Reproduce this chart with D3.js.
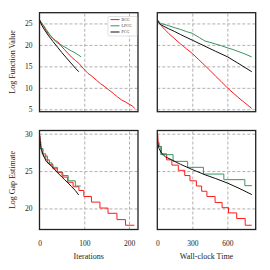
<!DOCTYPE html>
<html>
<head>
<meta charset="UTF-8">
<script src="https://d3js.org/d3.v7.min.js"></script>
<style>
  body { margin: 0; background: #fff; }
  svg { display: block; font-family: "Liberation Serif", "DejaVu Serif", serif; }
  .grid line { stroke: #b0b0b0; stroke-dasharray: 3,2; stroke-width: 1; }
  .grid path { display: none; }
  .ticks path, .ticks line { display: none; }
  .ticks text { font-family: "Liberation Serif", serif; font-size: 7.5px; fill: #222; }
  .frame { fill: none; stroke: #222; stroke-width: 1.3; }
  .series { fill: none; stroke-width: 1; }
</style>
</head>
<body>
<svg width="270" height="270"></svg>
<script>
// series names and colours
const names = ['BCG', 'LPCG', 'PCG'];
const colors = ['#ff1a1a', '#3a9460', '#111111'];

// top-left: log function value vs iterations
const fvIterBCG = [[0,25.8],[5,25.0],[10,24.2],[15,23.3],[19,22.7],[25,22.0],[30,21.5],[36,21.0],[41,20.7],[48,19.8],[55,19.0],[63,18.1],[71,17.2],[80,16.4],[88,15.7],[97,14.6],[108,13.4],[117,12.7],[127,11.8],[136,11.0],[146,10.25],[155,9.5],[165,8.7],[174,7.9],[183,7.2],[192,6.7],[200,6.2],[207,5.8],[213,5.2]];
const fvIterLPCG = [[0,25.8],[5,25.1],[10,24.4],[15,23.6],[19,23.0],[25,22.1],[30,21.5],[36,20.8],[41,20.4],[48,20.0],[55,19.6],[63,19.1],[71,18.6],[77,18.3],[83,17.9],[88,17.6],[93,17.2]];
const fvIterPCG = [[0,25.8],[5,24.6],[10,23.7],[19,22.3],[30,20.8],[40,19.5],[50,18.2],[60,17.0],[70,15.8],[80,14.6],[87.6,13.75]];

// top-right: log function value vs wall-clock time
const fvTimeBCG = [[0,25.8],[25,24.8],[50,24.0],[75,23.3],[100,22.6],[150,21.4],[200,20.2],[250,19.1],[300,18.0],[350,16.7],[400,15.4],[450,14.1],[500,12.7],[550,11.4],[600,10.0],[650,8.8],[700,7.6],[750,6.5],[809,5.2]];
const fvTimeLPCG = [[0,25.8],[30,25.0],[94,24.5],[150,24.0],[200,23.6],[250,23.1],[300,22.7],[360,21.7],[409,20.9],[450,20.6],[500,20.2],[550,19.8],[603,19.3],[650,18.9],[700,18.4],[750,17.9],[809,17.2]];
const fvTimePCG = [[0,25.8],[20,24.9],[50,24.4],[94,23.8],[150,23.1],[200,22.4],[300,21.1],[400,19.8],[500,18.5],[603,17.2],[700,15.6],[809,13.75]];

// bottom-left: log gap estimate vs iterations (step functions for BCG, LPCG)
const gapIterBCG = [[0,29.7],[1,28.9],[3,28.0],[6,27.3],[14,26.5],[22,25.9],[30,25.3],[40,24.8],[52,24.2],[63,23.5],[75,22.9],[88,22.4],[99,21.6],[116,20.85],[135,20.05],[153,19.35],[173,18.5],[192,17.75],[212,17.75]];
const gapIterLPCG = [[0,28.0],[8,27.0],[18,26.1],[28,25.5],[40,24.9],[50,24.4],[64,23.7],[80,23.0],[92,23.0]];
const gapIterPCG = [[0,30.0],[2,28.7],[4,27.9],[8,27.2],[15,26.3],[22,25.9],[30,25.5],[40,24.8],[50,24.2],[56,23.85],[64,23.4],[71,22.95],[80,22.4],[87.6,21.8]];

// bottom-right: log gap estimate vs wall-clock time
const gapTimeBCG = [[0,29.8],[5,28.8],[15,28.3],[35,27.3],[80,26.5],[125,25.8],[180,25.1],[235,24.4],[280,23.7],[335,23.0],[380,22.3],[425,21.6],[495,20.8],[555,20.1],[610,19.4],[680,18.65],[753,17.75],[809,17.75]];
const gapTimeLPCG = [[0,28.3],[30,27.2],[135,26.3],[260,25.5],[395,24.6],[570,23.85],[750,23.05],[810,23.05]];
const gapTimePCG = [[0,30.0],[5,28.7],[15,28.0],[37,27.4],[70,26.9],[123,26.5],[200,25.9],[300,25.2],[409,24.5],[500,24.0],[600,23.4],[700,22.7],[810,21.85]];

// axis ticks and labels
const iterTicks = [0, 100, 200];
const timeTicks = [0, 300, 600];
const fvTicks = [5, 10, 15, 20, 25];
const gapTicks = [20, 25, 30];

const svg = d3.select('svg');

const colL = [39.5, 138], colR = [157.3, 255.7];
const rowT = [12.7, 111.7], rowB = [130.5, 229.5];

const panels = [
  { id: 'tl', xr: colL, yr: rowT, xd: [0, 220], yd: [4.44, 27.5], xt: iterTicks, yt: fvTicks,
    series: [fvIterBCG, fvIterLPCG, fvIterPCG], step: [false, false, false], xl: false, yl: true },
  { id: 'tr', xr: colR, yr: rowT, xd: [0, 843], yd: [4.44, 27.5], xt: timeTicks, yt: fvTicks,
    series: [fvTimeBCG, fvTimeLPCG, fvTimePCG], step: [false, false, false], xl: false, yl: false },
  { id: 'bl', xr: colL, yr: rowB, xd: [0, 220], yd: [17.18, 30.43], xt: iterTicks, yt: gapTicks,
    series: [gapIterBCG, gapIterLPCG, gapIterPCG], step: [true, true, false], xl: true, yl: true },
  { id: 'br', xr: colR, yr: rowB, xd: [0, 843], yd: [17.18, 30.43], xt: timeTicks, yt: gapTicks,
    series: [gapTimeBCG, gapTimeLPCG, gapTimePCG], step: [true, true, false], xl: true, yl: false, thickBlack: true }
];

panels.forEach(p => {
  const x = d3.scaleLinear().domain(p.xd).range(p.xr);
  const y = d3.scaleLinear().domain(p.yd).range([p.yr[1], p.yr[0]]);
  const w = p.xr[1] - p.xr[0], h = p.yr[1] - p.yr[0];

  svg.append('clipPath').attr('id', 'clip-' + p.id)
    .append('rect').attr('x', p.xr[0]).attr('y', p.yr[0]).attr('width', w).attr('height', h);

  // grid
  svg.append('g').attr('class', 'grid')
    .attr('transform', `translate(0,${p.yr[1]})`)
    .call(d3.axisBottom(x).tickValues(p.xt.filter(v => v > 0)).tickSize(-h).tickFormat(''));
  svg.append('g').attr('class', 'grid')
    .attr('transform', `translate(${p.xr[0]},0)`)
    .call(d3.axisLeft(y).tickValues(p.yt).tickSize(-w).tickFormat(''));

  // lines
  const g = svg.append('g').attr('clip-path', `url(#clip-${p.id})`);
  p.series.forEach((s, i) => {
    const line = d3.line()
      .x(d => x(d[0])).y(d => y(d[1]))
      .curve(p.step[i] ? d3.curveStepAfter : d3.curveLinear);
    g.append('path').datum(s).attr('class', 'series')
      .attr('stroke', colors[i])
      .attr('stroke-width', (i === 2 && p.thickBlack) ? 1.7 : (i === 2 ? 1.3 : 1))
      .attr('d', line);
  });

  svg.append('rect').attr('class', 'frame')
    .attr('x', p.xr[0]).attr('y', p.yr[0]).attr('width', w).attr('height', h);

  if (p.yl) {
    svg.append('g').attr('class', 'ticks')
      .attr('transform', `translate(${p.xr[0]},0)`)
      .call(d3.axisLeft(y).tickValues(p.yt).tickSize(0).tickPadding(7));
  }
  if (p.xl) {
    svg.append('g').attr('class', 'ticks')
      .attr('transform', `translate(0,${p.yr[1]})`)
      .call(d3.axisBottom(x).tickValues(p.xt).tickSize(0).tickPadding(11));
  }
});

// axis titles
const title = (txt, xx, yy, rot) => {
  const t = svg.append('text').text(txt)
    .attr('font-size', 8).attr('fill', '#222').attr('text-anchor', 'middle');
  if (rot) t.attr('transform', `translate(${xx},${yy}) rotate(-90)`);
  else t.attr('x', xx).attr('y', yy);
};
title('Log Function Value', 14.5, 62, true);
title('Log Gap Estimate', 14.5, 180, true);
title('Iterations', 88.7, 259, false);
title('Wall-clock Time', 206.5, 259, false);

// legend
const lg = svg.append('g');
lg.append('rect').attr('x', 108).attr('y', 16.5).attr('width', 29).attr('height', 19.5)
  .attr('rx', 1).attr('fill', '#fff').attr('stroke', '#ccc').attr('stroke-width', 0.6);
names.forEach((n, i) => {
  const yy = 19.6 + i * 6.2;
  lg.append('line').attr('x1', 110.5).attr('x2', 119.5).attr('y1', yy).attr('y2', yy)
    .attr('stroke', colors[i]).attr('stroke-width', 1);
  lg.append('text').text(n).attr('x', 121.5).attr('y', yy + 1.4)
    .attr('font-size', 4).attr('fill', '#333');
});
</script>
</body>
</html>
